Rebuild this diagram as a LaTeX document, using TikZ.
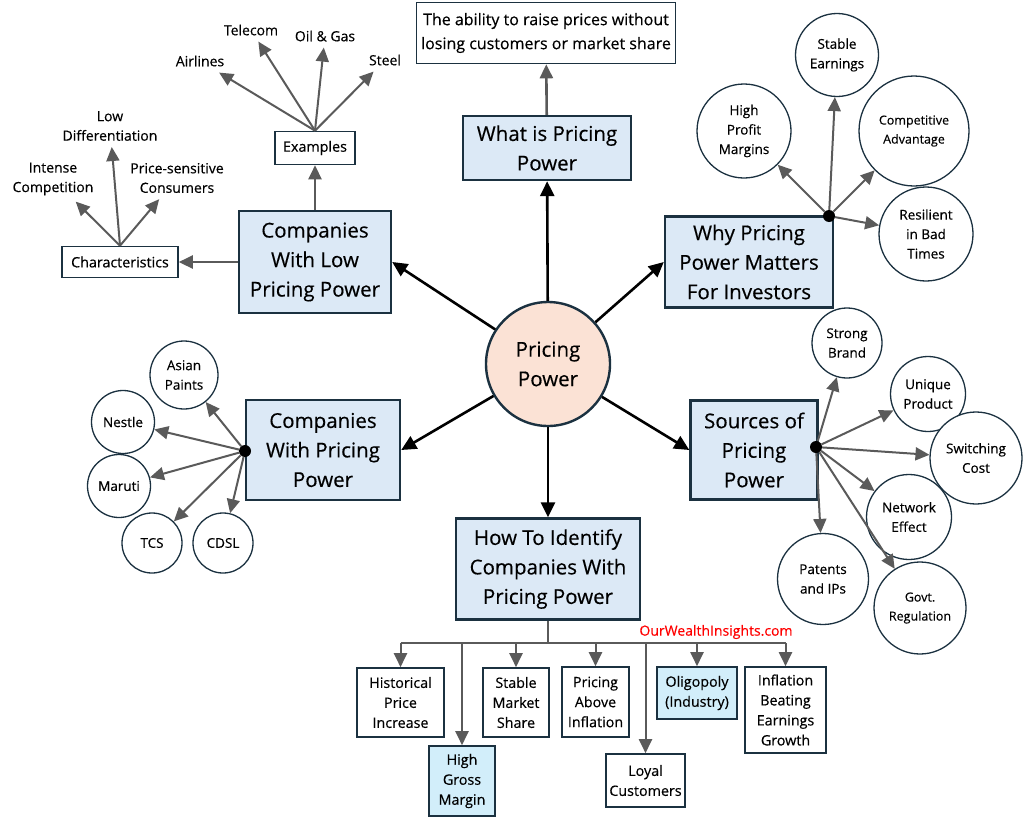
\documentclass[tikz,border=0pt]{standalone}
\usepackage{fontspec}
\setmainfont{Open Sans}[UprightFeatures={FakeBold=0.35}]
\usetikzlibrary{arrows.meta}

\definecolor{navy}{HTML}{1B3140}
\definecolor{boxblue}{HTML}{DCE9F6}
\definecolor{cyanbox}{HTML}{D2EEFA}
\definecolor{peach}{HTML}{FBE2D5}
\definecolor{linkgray}{HTML}{5A5A5A}

\tikzset{
	mainbox/.style={draw=navy, line width=2.4pt, fill=boxblue, align=center, inner sep=0pt,
		font=\fontsize{20.5}{29.5}\selectfont},
	smallbox/.style={draw=navy, line width=1.6pt, fill=white, align=center, inner sep=0pt,
		font=\fontsize{14.3}{20}\selectfont},
	leaf/.style={circle, draw=navy, line width=1.3pt, fill=white, align=center, inner sep=0pt,
		font=\fontsize{13.5}{19.5}\selectfont},
	plainlabel/.style={align=center, inner sep=6pt, font=\fontsize{14}{19.5}\selectfont},
	hub/.style={circle, fill=black, minimum size=12pt, inner sep=0pt},
	mainarrow/.style={line width=2.6pt, -{Triangle[length=15pt,width=14pt]}},
	graylink/.style={draw=linkgray, line width=2pt, -{Triangle[length=14pt,width=13pt]}},
}

\begin{document}
\begin{tikzpicture}[x=1pt, y=-1pt]
	\useasboundingbox (0,0) rectangle (1024,819);

	% centre
	\node (pp) [circle, draw=navy, line width=2.4pt, fill=peach, minimum size=124pt, inner sep=0pt,
		align=center, font=\fontsize{20.5}{29.5}\selectfont] at (548,364) {Pricing\\Power};

	% main boxes
	\node (what) [mainbox, minimum width=168pt, minimum height=64pt] at (547,148) {What is Pricing\\Power};
	\node (why) [mainbox, minimum width=168pt, minimum height=91pt] at (749,262) {Why Pricing\\Power Matters\\For Investors};
	\node (src) [mainbox, minimum width=127pt, minimum height=99pt] at (754,450) {Sources of\\Pricing\\Power};
	\node (how) [mainbox, minimum width=184pt, minimum height=101pt] at (548,569) {How To Identify\\Companies With\\Pricing Power};
	\node (cwp) [mainbox, minimum width=154pt, minimum height=100pt] at (323,450) {Companies\\With Pricing\\Power};
	\node (low) [mainbox, minimum width=152pt, minimum height=102pt] at (315,262) {Companies\\With Low\\Pricing Power};

	\draw[mainarrow] (pp) -- (what);
	\draw[mainarrow] (pp) -- (why.west);
	\draw[mainarrow] (pp) -- (src.west);
	\draw[mainarrow] (pp) -- (how);
	\draw[mainarrow] (pp) -- (cwp.east);
	\draw[mainarrow] (pp) -- (low.east);

	% definition
	\node (def) [smallbox, minimum width=259pt, minimum height=61pt, font=\fontsize{16}{24}\selectfont]
		at (546,33) {The ability to raise prices without\\losing customers or market share};
	\draw[graylink, line width=2.6pt] (what) -- (def);

	% low pricing power
	\node (char) [smallbox, minimum width=116pt, minimum height=31pt] at (120,262) {Characteristics};
	\node (ex) [smallbox, minimum width=80pt, minimum height=33pt] at (315,148) {Examples};
	\draw[graylink, line width=2.6pt] (low) -- (char);
	\draw[graylink, line width=2.6pt] (low) -- (ex);

	\node (airl) [plainlabel] at (200,61) {Airlines};
	\node (tel) [plainlabel] at (251,30) {Telecom};
	\node (oil) [plainlabel] at (325,36) {Oil \& Gas};
	\node (steel) [plainlabel] at (385,60) {Steel};
	\foreach \t in {airl,tel,oil,steel}
		\draw[graylink] (ex.north) -- (\t);

	\node (intc) [plainlabel] at (53,179) {Intense\\Competition};
	\node (lowd) [plainlabel] at (110,126) {Low\\Differentiation};
	\node (psc) [plainlabel] at (177,178) {Price-sensitive\\Consumers};
	\foreach \t in {intc,lowd,psc}
		\draw[graylink] (char.north) -- (\t);

	% why it matters
	\node (whyhub) [hub] at (829,216) {};
	\node (hpm) [leaf, minimum size=94pt] at (744,131) {High\\Profit\\Margins};
	\node (stab) [leaf, minimum size=83pt] at (837,55) {Stable\\Earnings};
	\node (comp) [leaf, minimum size=110pt, font=\fontsize{12.5}{19}\selectfont] at (914,131) {Competitive\\Advantage};
	\node (resil) [leaf, minimum size=94pt] at (926,234) {Resilient\\in Bad\\Times};
	\foreach \t in {hpm,stab,comp,resil}
		\draw[graylink] (whyhub) -- (\t);

	% companies with pricing power
	\node (cwphub) [hub] at (245,451) {};
	\node (asian) [leaf, minimum size=68pt] at (184,375) {Asian\\Paints};
	\node (nestle) [leaf, minimum size=63pt] at (123,422) {Nestle};
	\node (maruti) [leaf, minimum size=63pt] at (119,486) {Maruti};
	\node (tcs) [leaf, minimum size=60pt] at (152,543) {TCS};
	\node (cdsl) [leaf, minimum size=60pt] at (223,543) {CDSL};
	\foreach \t in {asian,nestle,maruti,tcs,cdsl}
		\draw[graylink] (cwphub) -- (\t);

	% sources
	\node (srchub) [hub] at (816,447) {};
	\node (brand) [leaf, minimum size=70pt] at (847,343) {Strong\\Brand};
	\node (uniq) [leaf, minimum size=75pt] at (928,394) {Unique\\Product};
	\node (switch) [leaf, minimum size=92pt] at (976,458) {Switching\\Cost};
	\node (netw) [leaf, minimum size=85pt] at (909,517) {Network\\Effect};
	\node (pat) [leaf, minimum size=91pt] at (823,579) {Patents\\and IPs};
	\node (govt) [leaf, minimum size=92pt, font=\fontsize{12.5}{19}\selectfont] at (920,608) {Govt.\\Regulation};
	\foreach \t in {brand,uniq,switch,netw,pat,govt}
		\draw[graylink] (srchub) -- (\t);

	% how to identify
	\coordinate (bus) at (548,643);
	\node (hist) [smallbox, minimum width=87pt, minimum height=69pt] at (400.5,702.5) {Historical\\Price\\Increase};
	\node (hgm) [smallbox, fill=cyanbox, minimum width=66pt, minimum height=70pt] at (462,781) {High\\Gross\\Margin};
	\node (sms) [smallbox, minimum width=66pt, minimum height=69pt] at (516,702.5) {Stable\\Market\\Share};
	\node (pai) [smallbox, minimum width=67pt, minimum height=70pt] at (595.5,702) {Pricing\\Above\\Inflation};
	\node (loyal) [smallbox, minimum width=79pt, minimum height=53pt] at (645.5,780.5) {Loyal\\Customers};
	\node (olig) [smallbox, fill=cyanbox, minimum width=80pt, minimum height=52pt] at (697,693) {Oligopoly\\(Industry)};
	\node (ibeg) [smallbox, minimum width=81pt, minimum height=86pt] at (785.5,710) {Inflation\\Beating\\Earnings\\Growth};

	\draw[linkgray, line width=2pt] (how.south) -- (bus);
	\draw[linkgray, line width=2pt] (hist.north |- bus) -- (ibeg.north |- bus);
	\foreach \t in {hist,sms,pai,olig,ibeg}
		\draw[graylink] (\t.north |- bus) -- (\t.north);
	\draw[graylink] (hgm.north |- bus) -- (hgm.north);
	\draw[graylink] (loyal.north |- bus) -- (loyal.north);

	\node (site) [text=red, inner sep=0pt, font=\fontsize{14}{16}\selectfont] at (716,632) {OurWealthInsights.com};
\end{tikzpicture}
\end{document}
